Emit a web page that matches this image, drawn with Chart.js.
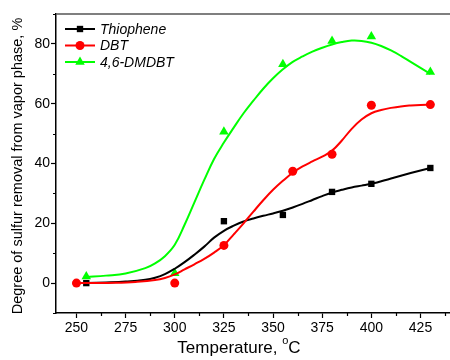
<!DOCTYPE html>
<html>
<head>
<meta charset="utf-8">
<script src="https://cdn.jsdelivr.net/npm/chart.js@4/dist/chart.umd.min.js"></script>
<style>
  html, body { margin: 0; padding: 0; background: #fff; }
  #wrap { width: 450px; height: 360px; }
</style>
</head>
<body>
<div id="wrap"><canvas id="chart" width="450" height="360"></canvas></div>
<script>
'use strict';

// measured points
const thioT = [255, 325, 355, 380, 400, 430];
const thioVal = [0, 20.7, 22.8, 30.5, 33.2, 38.5];
const dbtT = [250, 300, 325, 360, 380, 400, 430];
const dbtVal = [0, 0, 12.6, 37.4, 43.1, 59.5, 59.7];
const dmT = [255, 300, 325, 355, 380, 400, 430];
const dmVal = [2.2, 3.3, 50.6, 73.2, 81, 82.5, 70.6];

// fitted curves
const thioFitT = [255, 265, 275, 285, 290, 295, 300, 305, 310, 315, 320, 325, 330, 335, 340, 345, 350, 355, 360, 365, 370, 375, 380, 385, 390, 395, 400, 410, 420, 430];
const thioFit = [0, 0.2, 0.5, 1.1, 1.8, 3, 4.8, 7, 9.5, 12.2, 15.2, 17.5, 19.2, 20.6, 21.6, 22.5, 23.3, 24.2, 25.3, 26.5, 27.8, 29.1, 30.3, 31.2, 32, 32.6, 33.2, 35, 36.8, 38.5];
const dbtFitT = [250, 260, 270, 280, 290, 295, 300, 305, 310, 315, 320, 325, 330, 335, 340, 345, 350, 355, 360, 365, 370, 375, 380, 385, 390, 395, 400, 405, 410, 415, 420, 425, 430];
const dbtFit = [0, 0, 0.1, 0.4, 1, 1.7, 2.9, 4.6, 6.3, 8.1, 10.2, 12.7, 16.3, 20, 23.9, 27.7, 31.2, 34.2, 36.9, 39, 40.7, 42.3, 44.3, 47.7, 51.6, 54.7, 56.8, 57.9, 58.6, 59.1, 59.4, 59.6, 59.7];
const dmFitT = [255, 265, 275, 285, 290, 295, 300, 305, 310, 315, 320, 325, 330, 335, 340, 345, 350, 355, 360, 365, 370, 375, 380, 385, 390, 395, 400, 405, 410, 415, 420, 425, 430];
const dmFit = [2, 2.5, 3.2, 5, 6.6, 9, 12.8, 19.5, 27, 34.5, 41.5, 47, 52, 56.8, 61, 65, 68.5, 71.5, 74, 75.8, 77.4, 78.7, 79.8, 80.6, 81.1, 81, 80.4, 79.3, 77.8, 76, 74, 72, 70];

const xMajor = [250, 275, 300, 325, 350, 375, 400, 425];
const xMinor = [262.5, 287.5, 312.5, 337.5, 362.5, 387.5, 412.5, 437.5];
const yMajor = [0, 20, 40, 60, 80];
const yMinor = [-10, 10, 30, 50, 70, 90];

const seriesNames = ['Thiophene', 'DBT', '4,6-DMDBT'];
const seriesColors = ['#000000', '#ff0000', '#00ff00'];
const seriesMarkers = ['rect', 'circle', 'triangle'];

const toXY = (xs, ys) => xs.map((x, i) => ({ x: x, y: ys[i] }));

function curve(xs, ys, color) {
  return {
    type: 'line',
    data: toXY(xs, ys),
    borderColor: color,
    borderWidth: 2,
    pointRadius: 0,
    tension: 0.4,
    fill: false
  };
}

function markers(xs, ys, i) {
  return {
    type: 'line',
    data: toXY(xs, ys),
    showLine: false,
    pointStyle: seriesMarkers[i],
    pointRadius: i === 2 ? 5.5 : 4.5,
    pointBackgroundColor: seriesColors[i],
    pointBorderColor: seriesColors[i],
    pointBorderWidth: 0
  };
}

const FONT = '"Liberation Sans", Arial, sans-serif';

// minor ticks, frame, axis titles and the legend
const decorPlugin = {
  id: 'decor',
  afterDraw(chart) {
    const { ctx, chartArea, scales } = chart;
    const xs = scales.x, ys = scales.y;
    ctx.save();
    ctx.strokeStyle = '#000';
    ctx.lineWidth = 1.2;
    ctx.beginPath();
    xMinor.forEach(v => {
      const px = Math.round(xs.getPixelForValue(v)) + 0.5;
      ctx.moveTo(px, chartArea.bottom);
      ctx.lineTo(px, chartArea.bottom + 3);
    });
    yMinor.forEach(v => {
      const py = Math.round(ys.getPixelForValue(v)) + 0.5;
      ctx.moveTo(chartArea.left, py);
      ctx.lineTo(chartArea.left - 3, py);
    });
    ctx.stroke();

    // top frame
    ctx.strokeStyle = '#555';
    ctx.lineWidth = 1.5;
    ctx.beginPath();
    ctx.moveTo(chartArea.left, chartArea.top);
    ctx.lineTo(chartArea.right, chartArea.top);
    ctx.stroke();

    // axis titles
    ctx.fillStyle = '#000';
    ctx.textBaseline = 'middle';
    ctx.font = '17px ' + FONT;
    const main = 'Temperature, ';
    const wMain = ctx.measureText(main).width;
    ctx.font = '11px ' + FONT;
    const wSup = ctx.measureText('o').width;
    ctx.font = '17px ' + FONT;
    const wC = ctx.measureText('C').width;
    let tx = 239 - (wMain + wSup + wC) / 2;
    const ty = 348;
    ctx.textAlign = 'left';
    ctx.fillText(main, tx, ty);
    tx += wMain;
    ctx.font = '11px ' + FONT;
    ctx.fillText('o', tx, ty - 7);
    tx += wSup;
    ctx.font = '17px ' + FONT;
    ctx.fillText('C', tx, ty);

    ctx.save();
    ctx.translate(18, 166);
    ctx.rotate(-Math.PI / 2);
    ctx.textAlign = 'center';
    ctx.font = '14.5px ' + FONT;
    ctx.fillText('Degree of sulfur removal from vapor phase, %', 0, 0);
    ctx.restore();

    // legend
    ctx.font = 'italic 14px ' + FONT;
    ctx.textAlign = 'left';
    seriesNames.forEach((name, i) => {
      const y = 29 + i * 16.5;
      ctx.strokeStyle = seriesColors[i];
      ctx.lineWidth = 2;
      ctx.beginPath();
      ctx.moveTo(65, y);
      ctx.lineTo(95, y);
      ctx.stroke();
      ctx.fillStyle = seriesColors[i];
      Chart.helpers.drawPoint(ctx, {
        pointStyle: seriesMarkers[i],
        radius: i === 2 ? 5.5 : 4.5,
        rotation: 0,
        borderWidth: 0
      }, 80, y);
      ctx.fillStyle = '#000';
      ctx.fillText(name, 100, y + 1);
    });
    ctx.restore();
  }
};

new Chart(document.getElementById('chart'), {
  type: 'line',
  data: {
    datasets: [
      curve(dmFitT, dmFit, seriesColors[2]),
      curve(dbtFitT, dbtFit, seriesColors[1]),
      curve(thioFitT, thioFit, seriesColors[0]),
      markers(dmT, dmVal, 2),
      markers(dbtT, dbtVal, 1),
      markers(thioT, thioVal, 0)
    ]
  },
  options: {
    responsive: false,
    animation: false,
    clip: false,
    layout: {
      autoPadding: false,
      padding: { top: 14, right: 0, left: 0, bottom: 0 }
    },
    plugins: {
      legend: { display: false },
      tooltip: { enabled: false }
    },
    scales: {
      x: {
        type: 'linear',
        min: 239.6,
        max: 440,
        afterFit: s => {
          s.height = 47;
          s.paddingLeft = 0;
          s.paddingRight = 0;
        },
        afterBuildTicks: s => { s.ticks = xMajor.map(v => ({ value: v })); },
        ticks: {
          color: '#000',
          font: { family: FONT, size: 14 },
          padding: 2,
          maxRotation: 0,
          autoSkip: false
        },
        grid: { drawOnChartArea: false, tickLength: 5, color: '#000', tickWidth: 1.2 },
        border: { color: '#000', width: 1.5 }
      },
      y: {
        type: 'linear',
        min: -10,
        max: 90,
        afterFit: s => {
          s.width = 56;
          s.paddingTop = 0;
          s.paddingBottom = 0;
        },
        afterBuildTicks: s => { s.ticks = yMajor.map(v => ({ value: v })); },
        ticks: {
          color: '#000',
          font: { family: FONT, size: 14 },
          padding: 1
        },
        grid: { drawOnChartArea: false, tickLength: 5, color: '#000', tickWidth: 1.2 },
        border: { color: '#000', width: 1.5 }
      }
    }
  },
  plugins: [decorPlugin]
});
</script>
</body>
</html>
